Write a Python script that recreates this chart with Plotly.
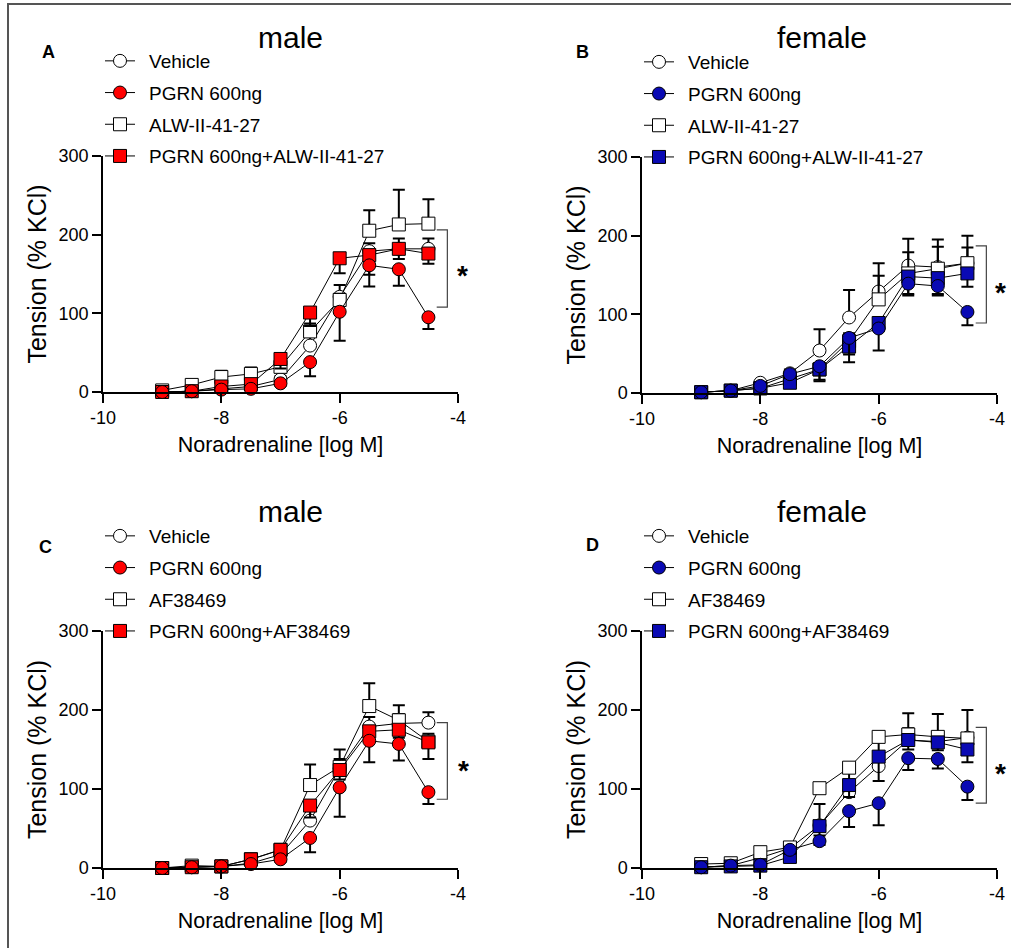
import plotly.graph_objects as go

W, H = 1011, 948
FONT = "Arial, Liberation Sans, sans-serif"

log_conc = [-9, -8.5, -8, -7.5, -7, -6.5, -6, -5.5, -5, -4.5]

# Panel A (male, ALW-II-41-27)
a_vehicle = [0, 1, 4, 7, 16, 59, 121, 179, 182, 182]
a_vehicle_err = [0, 0, 2, 2, 4, 12, 15, 10, 13, 13]
a_pgrn = [0, 1, 3, 4, 11, 38, 102, 161, 156, 95]
a_pgrn_err = [0, 0, 1, 2, 3, 18, 37, 27, 21, 15]
a_alw = [2, 9, 19, 23, 32, 77, 117, 205, 213, 214]
a_alw_err = [1, 2, 8, 8, 6, 10, 8, 26, 44, 31]
a_combo = [0, 1, 7, 10, 42, 101, 170, 174, 182, 176]
a_combo_err = [0, 0, 1, 2, 12, 17, 19, 25, 13, 13]

# Panel B (female, ALW-II-41-27)
b_vehicle = [1, 3, 13, 25, 54, 96, 129, 162, 160, 165]
b_vehicle_err = [0, 0, 1, 5, 27, 35, 36, 34, 35, 35]
b_pgrn = [1, 3, 9, 24, 34, 70, 82, 139, 136, 103]
b_pgrn_err = [0, 0, 1, 5, 17, 31, 28, 15, 12, 17]
b_alw = [1, 3, 6, 18, 30, 66, 119, 152, 158, 165]
b_alw_err = [0, 0, 1, 3, 5, 10, 30, 27, 28, 20]
b_combo = [1, 3, 6, 13, 30, 59, 89, 148, 146, 152]
b_combo_err = [0, 0, 1, 3, 15, 10, 10, 22, 20, 17]

# Panel C (male, AF38469)
c_vehicle = [0, 1, 2, 6, 17, 60, 126, 179, 183, 184]
c_vehicle_err = [0, 0, 1, 2, 4, 15, 24, 12, 12, 13]
c_pgrn = [0, 1, 2, 5, 11, 38, 102, 161, 157, 96]
c_pgrn_err = [0, 0, 1, 2, 3, 18, 37, 27, 21, 15]
c_af = [0, 3, 2, 11, 23, 105, 128, 205, 187, 160]
c_af_err = [0, 1, 1, 2, 3, 26, 10, 29, 19, 10]
c_combo = [0, 1, 2, 11, 23, 79, 124, 173, 175, 159]
c_combo_err = [0, 0, 1, 2, 4, 15, 12, 10, 10, 21]

# Panel D (female, AF38469)
d_vehicle = [1, 3, 13, 25, 54, 96, 129, 162, 160, 165]
d_vehicle_err = [0, 0, 1, 5, 27, 35, 36, 34, 35, 35]
d_pgrn = [1, 3, 4, 23, 34, 72, 82, 139, 138, 103]
d_pgrn_err = [0, 0, 1, 5, 5, 20, 28, 15, 12, 17]
d_af = [5, 6, 20, 26, 101, 127, 166, 169, 166, 164]
d_af_err = [1, 1, 2, 3, 5, 6, 5, 8, 6, 6]
d_combo = [1, 2, 3, 14, 53, 105, 141, 162, 159, 150]
d_combo_err = [0, 0, 1, 3, 12, 15, 31, 12, 10, 16]

names_alw = ["Vehicle", "PGRN 600ng", "ALW-II-41-27", "PGRN 600ng+ALW-II-41-27"]
names_af = ["Vehicle", "PGRN 600ng", "AF38469", "PGRN 600ng+AF38469"]
titles = ["male", "female", "male", "female"]
panel_letters = ["A", "B", "C", "D"]
RED = "#FF0000"
BLUE = "#0A0AB4"

panels = [
    dict(ax="", leg="legend", fill=RED, names=names_alw,
         series=[(a_vehicle, a_vehicle_err), (a_pgrn, a_pgrn_err), (a_alw, a_alw_err), (a_combo, a_combo_err)],
         px=(103, 458), py=(156, 392), bracket=(206, 108), star=(462, 270), title=(290, 38)),
    dict(ax="2", leg="legend2", fill=BLUE, names=names_alw,
         series=[(b_vehicle, b_vehicle_err), (b_pgrn, b_pgrn_err), (b_alw, b_alw_err), (b_combo, b_combo_err)],
         px=(642, 997), py=(157, 393), bracket=(187, 89), star=(1000, 288), title=(822, 38)),
    dict(ax="3", leg="legend3", fill=RED, names=names_af,
         series=[(c_vehicle, c_vehicle_err), (c_pgrn, c_pgrn_err), (c_af, c_af_err), (c_combo, c_combo_err)],
         px=(103, 458), py=(631, 868), bracket=(184, 87), star=(463, 765), title=(290, 512)),
    dict(ax="4", leg="legend4", fill=BLUE, names=names_af,
         series=[(d_vehicle, d_vehicle_err), (d_pgrn, d_pgrn_err), (d_af, d_af_err), (d_combo, d_combo_err)],
         px=(642, 997), py=(631, 868), bracket=(178, 82), star=(1000, 768), title=(822, 512)),
]

fig = go.Figure()

for i, p in enumerate(panels):
    styles = [("circle", "white", True), ("circle", p["fill"], False),
              ("square", "white", True), ("square", p["fill"], False)]
    draw_order = [0, 2, 3, 1]
    for k in draw_order:
        vals, err = p["series"][k]
        sym, fill, up = styles[k]
        zeros = [0] * len(err)
        fig.add_trace(go.Scatter(
            x=log_conc, y=vals, mode="lines+markers", name="\u00a0\u2009" + p["names"][k],
            legend=p["leg"], legendrank=k + 1, legendgroup=f"p{i}s{k}",
            line=dict(color="black", width=1),
            marker=dict(symbol=sym, size=13, color=fill, line=dict(color="black", width=1)),
            error_y=dict(type="data", symmetric=False,
                         array=err if up else zeros,
                         arrayminus=zeros if up else err,
                         color="black", thickness=2, width=6),
            xaxis="x" + p["ax"], yaxis="y" + p["ax"], cliponaxis=False,
        ))

    x0, x1 = p["px"]
    y0, y1 = p["py"]
    xd = [x0 / W, x1 / W]
    yd = [1 - y1 / H, 1 - y0 / H]
    axis_common = dict(showgrid=False, zeroline=False, showline=True, linecolor="black",
                       linewidth=1.5, ticks="outside", ticklen=9, tickwidth=1.5, tickcolor="black",
                       tickfont=dict(family=FONT, size=18, color="black"), automargin=False)
    fig.update_layout(**{
        "xaxis" + p["ax"]: dict(domain=xd, range=[-10, -4], tickvals=[-10, -8, -6, -4],
                                 ticktext=["-10", "-8", "-6", "-4"],
                                 anchor="y" + p["ax"],
                                 title=dict(text="Noradrenaline [log M]", standoff=10,
                                            font=dict(family=FONT, size=21.5, color="black")),
                                 **axis_common),
        "yaxis" + p["ax"]: dict(domain=yd, range=[0, 300], tickvals=[0, 100, 200, 300],
                                 anchor="x" + p["ax"],
                                 title=dict(text="Tension (% KCl)", standoff=5,
                                            font=dict(family=FONT, size=25, color="black")),
                                 **axis_common),
        p["leg"]: dict(x=(x0 - 3) / W, y=1 - (y0 - 114) / H, xanchor="left", yanchor="top",
                       bgcolor="rgba(0,0,0,0)", itemwidth=30, tracegroupgap=4,
                       font=dict(family=FONT, size=19, color="black"), itemclick=False),
    })

    xr = "x" + p["ax"]
    yr = "y" + p["ax"]
    top, bot = p["bracket"]
    fig.add_shape(type="path", xref=xr, yref=yr,
                  path=f"M -4.36 {top} L -4.18 {top} L -4.18 {bot} L -4.36 {bot}",
                  line=dict(color="#444444", width=1.2))
    sx, sy = p["star"]
    fig.add_annotation(x=sx / W, y=1 - (sy + 5) / H, xref="paper", yref="paper", text="<b>*</b>",
                       xanchor="center", yanchor="middle",
                       showarrow=False, font=dict(family=FONT, size=28, color="black"))
    tx, ty = p["title"]
    fig.add_annotation(x=tx / W, y=1 - ty / H, xref="paper", yref="paper",
                       text=titles[i], showarrow=False, xanchor="center", yanchor="middle",
                       font=dict(family=FONT, size=30, color="black"))

letter_pos = [(48, 52), (582, 52), (45, 547), (592, 545)]
for (lx, ly), t in zip(letter_pos, panel_letters):
    fig.add_annotation(x=lx / W, y=1 - ly / H, xref="paper", yref="paper", text=f"<b>{t}</b>",
                       xanchor="center", yanchor="middle",
                       showarrow=False, font=dict(family=FONT, size=18, color="black"))

# outer frame
fig.add_shape(type="rect", xref="paper", yref="paper", x0=8 / W, x1=1.05, y0=-0.05, y1=1 - 4 / H,
              line=dict(color="#555555", width=2))

fig.update_layout(width=W, height=H, margin=dict(l=0, r=0, t=0, b=0),
                  paper_bgcolor="white", plot_bgcolor="white", showlegend=True,
                  font=dict(family=FONT, color="black"))

fig.write_html("out.html")
